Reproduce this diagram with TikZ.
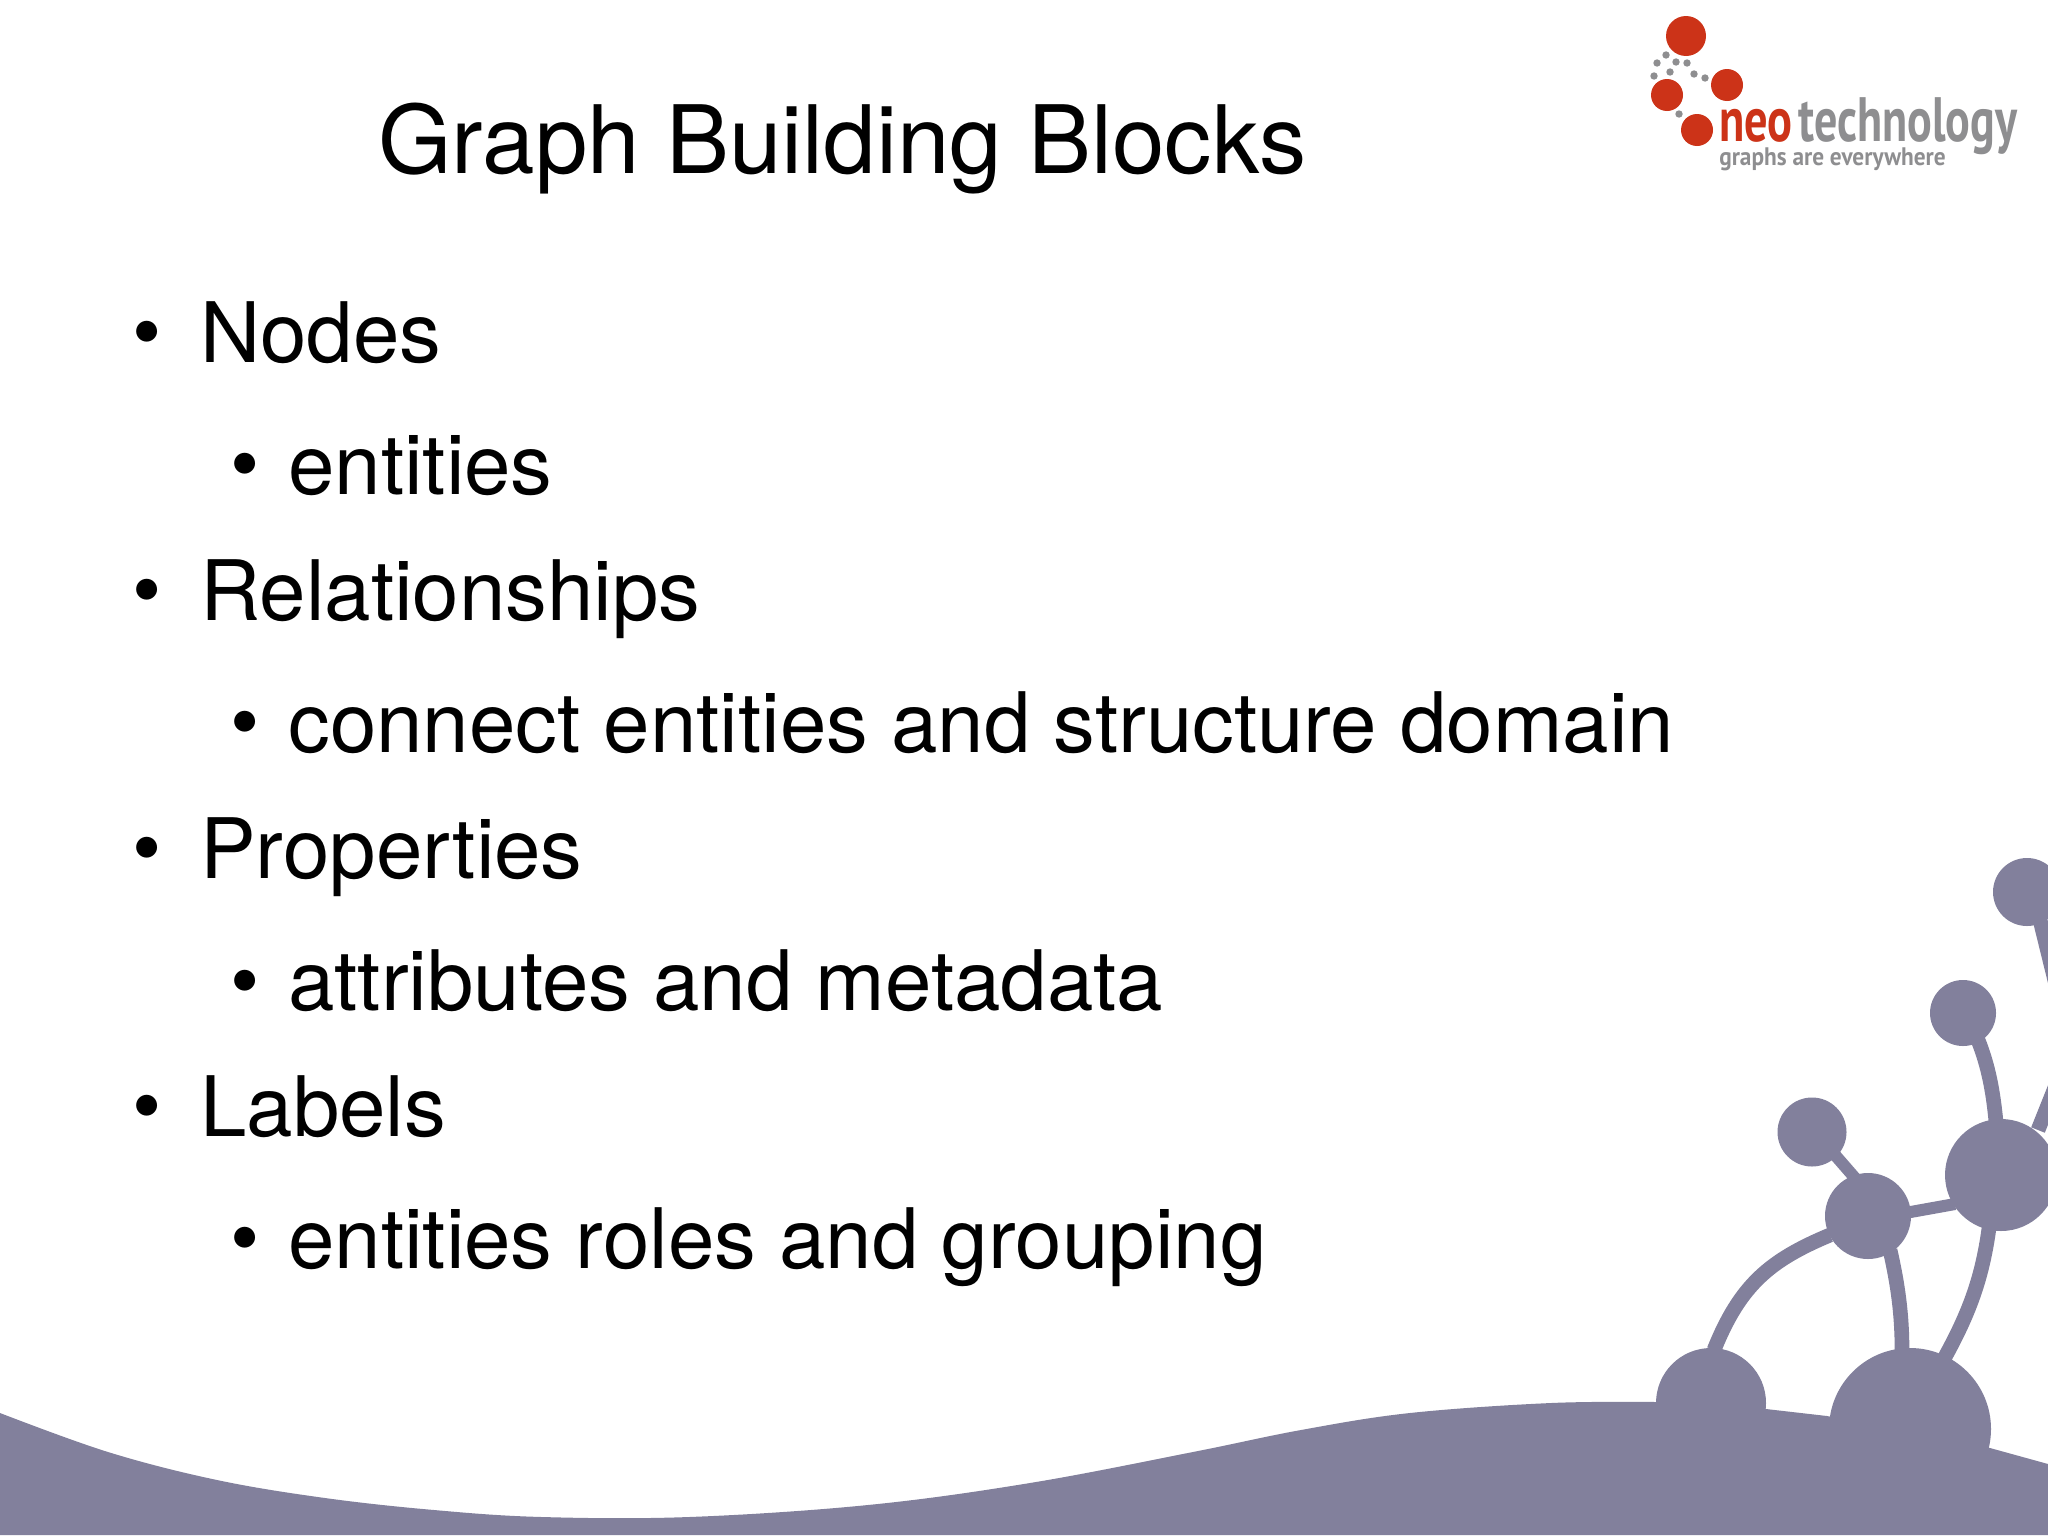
\documentclass[tikz,border=0pt]{standalone}
\usepackage{fontspec}
\setmainfont{TeX Gyre Heros}
\newfontfamily\logofont{PT Sans}
\definecolor{blob9}{HTML}{82809C}
\definecolor{neored}{HTML}{CC3318}
\definecolor{neogrey}{HTML}{8E8E90}
\tikzset{
  slidetitle/.style={anchor=base west,inner sep=0pt,font=\fontsize{70.8}{80}\selectfont},
  bodyline/.style={anchor=base west,inner sep=0pt,font=\fontsize{62.6}{70}\selectfont},
  stem/.style={blob9,line width=11pt},
  logotext/.style={anchor=base west,inner sep=0pt,transform shape}
}

\begin{document}
\begin{tikzpicture}[x=0.75pt,y=-0.75pt]
\clip (0,0) rectangle (2048,1535);
\fill [white] (0,0) rectangle (2048,1535);
% ground
\fill [blob9] plot [smooth,tension=0.6] coordinates {(0,1413) (108,1452) (217,1480) (325,1498) (434,1510) (542,1517) (689,1517) (868,1505) (1030,1483) (1193,1452) (1301,1430) (1410,1413) (1551,1403) (1656,1402)}
  -- (1766,1409) -- (1827,1416) -- (1990,1448) -- (2048,1464) -- (2048,1535) -- (0,1535) -- cycle;
% molecule
\draw [stem] (1714,1350) .. controls (1740,1285) and (1770,1260) .. (1830,1235);
\draw [stem] (1890,1250) .. controls (1898,1285) and (1902,1315) .. (1902,1350);
\draw [stem] (1989,1228) .. controls (1982,1280) and (1968,1315) .. (1945,1357);
\draw [stem,line width=9pt] (1905,1213) -- (1955,1204);
\draw [stem,line width=9pt] (1835,1155) -- (1855,1178);
\draw [stem] (1978,1040) .. controls (1988,1065) and (1993,1090) .. (1996,1122);
\draw [stem] (2040,920) -- (2056,985);
\draw [stem] (2038,1130) -- (2056,1085);
\fill [blob9] (2027,892) circle [radius=34];
\fill [blob9] (1963,1013) circle [radius=33];
\fill [blob9] (1812,1132) circle [radius=34.5];
\fill [blob9] (1868,1216) circle [radius=43];
\fill [blob9] (2001,1175) circle [radius=56];
\fill [blob9] (1711,1403) circle [radius=55];
\fill [blob9] (1910,1429) circle [radius=81];
% logo
\fill [neored] (1686,36) circle [radius=20];
\fill [neored] (1727,85) circle [radius=16];
\fill [neored] (1667,95) circle [radius=16];
\fill [neored] (1697,130) circle [radius=16];
\foreach \dotx/\doty in {1666/55,1657/63,1676/62,1687/63,1670/72,1654/76,1694/74,1705/78,1679/114}
  \fill [neogrey] (\dotx,\doty) circle [radius=3.7];
\node [logotext,xscale=0.74,text=neored,font=\logofont\bfseries\fontsize{47}{50}\selectfont] (neo) at (1719,141) {neo};
\node [logotext,xscale=0.735,text=neogrey,font=\logofont\bfseries\fontsize{47}{50}\selectfont] (tech) at (1798,141) {technology};
\node [logotext,xscale=0.92,text=neogrey,font=\logofont\bfseries\fontsize{19}{20}\selectfont] (claim) at (1719,165) {graphs are everywhere};
% text
\node [slidetitle] (title) at (378,173) {Graph Building Blocks};
\node [bodyline] (b1) at (132,360) {•};
\node [bodyline] (nodes) at (200,362) {Nodes};
\node [bodyline] (b2) at (230,492) {•};
\node [bodyline] (entities) at (288,494) {entities};
\node [bodyline] (b3) at (132,618) {•};
\node [bodyline] (rels) at (200,620) {Relationships};
\node [bodyline] (b4) at (230,750) {•};
\node [bodyline] (connect) at (288,752) {connect entities and structure domain};
\node [bodyline] (b5) at (132,876) {•};
\node [bodyline] (props) at (200,878) {Properties};
\node [bodyline] (b6) at (230,1009) {•};
\node [bodyline] (attrs) at (288,1010) {attributes and metadata};
\node [bodyline] (b7) at (132,1134) {•};
\node [bodyline] (labels) at (200,1136) {Labels};
\node [bodyline] (b8) at (230,1266) {•};
\node [bodyline] (roles) at (288,1268) {entities roles and grouping};
\end{tikzpicture}
\end{document}
